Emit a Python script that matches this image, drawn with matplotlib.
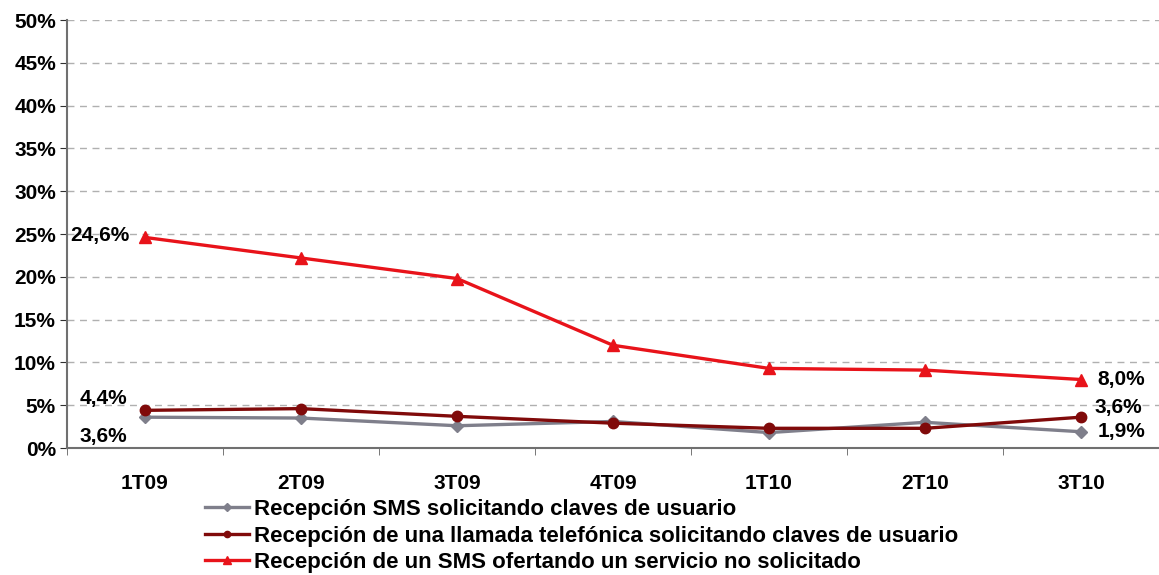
import matplotlib.pyplot as plt
import numpy as np

plt.rcParams['font.family'] = ['Liberation Sans', 'DejaVu Sans']
plt.rcParams['font.weight'] = 'bold'

trimestres = ['1T09', '2T09', '3T09', '4T09', '1T10', '2T10', '3T10']
sms_claves = [3.6, 3.5, 2.6, 3.1, 1.8, 3.0, 1.9]
llamada_claves = [4.4, 4.6, 3.7, 2.9, 2.3, 2.3, 3.6]
sms_no_solicitado = [24.6, 22.2, 19.8, 12.0, 9.3, 9.1, 8.0]

series = [
    ('Recepción SMS solicitando claves de usuario', sms_claves, '#7f7f8b', 'D', 6.5),
    ('Recepción de una llamada telefónica solicitando claves de usuario', llamada_claves, '#800a0a', 'o', 7.5),
    ('Recepción de un SMS ofertando un servicio no solicitado', sms_no_solicitado, '#e8131a', '^', 8.5),
]

fig = plt.figure(figsize=(11.59, 5.75), dpi=100)
ax = fig.add_axes([67 / 1159, 1 - 448 / 575, 1 - 67 / 1159, (448 - 20) / 575])

x = np.arange(len(trimestres))
for label, vals, color, marker, ms in series:
    ax.plot(x, vals, color=color, lw=2.4, marker=marker, ms=ms, label=label)

ax.set_xlim(-0.5, len(trimestres) - 0.5)
ax.set_ylim(0, 50)
ax.set_yticks(np.arange(0, 51, 5))
ax.set_yticklabels([f'{v}%' for v in range(0, 51, 5)])
ax.yaxis.grid(True, ls=(0, (5, 4)), color='#b0b0b0', lw=1)
ax.set_axisbelow(True)

# category labels centered, tick marks at the category boundaries
ax.set_xticks(x)
ax.set_xticklabels(trimestres)
ax.set_xticks(np.arange(-0.5, len(trimestres)), minor=True)
ax.tick_params(axis='x', which='major', length=0, pad=19, labelsize=15)
ax.tick_params(axis='x', which='minor', length=5, color='#606060')
ax.tick_params(axis='y', length=5, color='#303030', labelsize=15, pad=3)

for s in ['top', 'right']:
    ax.spines[s].set_visible(False)
for s in ['left', 'bottom']:
    ax.spines[s].set_color('#707070')
    ax.spines[s].set_linewidth(1.5)

fmt = lambda v: f'{v:.1f}%'.replace('.', ',')
kw = dict(textcoords='offset points', fontsize=15, fontweight='bold', va='center')
ax.annotate(fmt(sms_no_solicitado[0]), (0, sms_no_solicitado[0]), xytext=(-11, 1.5), ha='right', **kw)
ax.annotate(fmt(llamada_claves[0]), (0, llamada_claves[0]), xytext=(-13, 8.5), ha='right', **kw)
ax.annotate(fmt(sms_claves[0]), (0, sms_claves[0]), xytext=(-13, -14), ha='right', **kw)
ax.annotate(fmt(sms_no_solicitado[-1]), (6, sms_no_solicitado[-1]), xytext=(11.5, 0), ha='left', **kw)
ax.annotate(fmt(llamada_claves[-1]), (6, llamada_claves[-1]), xytext=(9.5, 7), ha='left', **kw)
ax.annotate(fmt(sms_claves[-1]), (6, sms_claves[-1]), xytext=(12, 0), ha='left', **kw)

fig.legend(loc='upper left', bbox_to_anchor=(205 / 1159, 1 - 499 / 575), frameon=False,
           fontsize=16, handlelength=2.0, handletextpad=0.2, labelspacing=0.25,
           borderaxespad=0, borderpad=0, markerscale=0.6)

fig.savefig('out.png', dpi=100)
